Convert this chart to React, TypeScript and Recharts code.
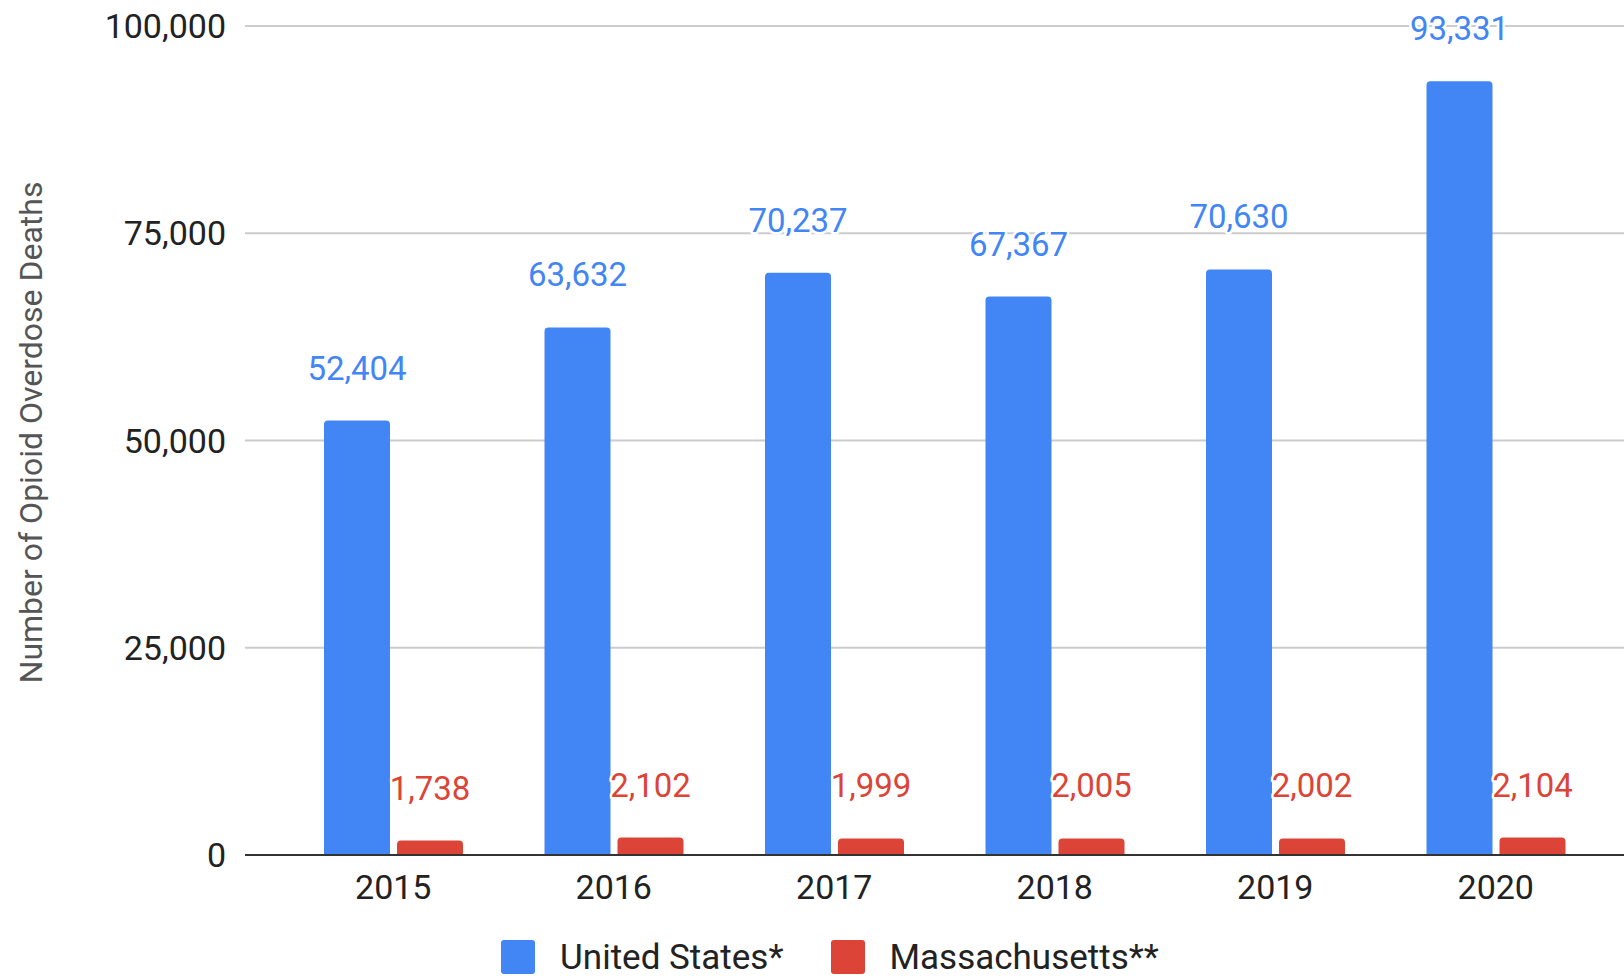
import React from 'react';
import { BarChart, Bar, XAxis, YAxis, CartesianGrid, Legend, LabelList } from 'recharts';

const years = ['2015', '2016', '2017', '2018', '2019', '2020'];
const usDeaths = [52404, 63632, 70237, 67367, 70630, 93331];
const maDeaths = [1738, 2102, 1999, 2005, 2002, 2104];
const yTicks = [0, 25000, 50000, 75000, 100000];

const US_COLOR = '#4285F4';
const MA_COLOR = '#DB4437';

const data = years.map((y, i) => ({ year: y, us: usDeaths[i], ma: maDeaths[i] }));

const fmt = (v: number) => v.toLocaleString('en-US');

const makeLabel = (color: string) => (props: any) => {
  const { x, y, width, value } = props;
  const cx = Number(x) + Number(width) / 2;
  const ty = Number(y) - 41;
  return (
    <text
      x={cx}
      y={ty}
      textAnchor="middle"
      fontSize={33}
      fontFamily="Roboto"
      fill={color}
      stroke="#ffffff"
      strokeWidth={5}
      strokeLinejoin="round"
      style={{ paintOrder: 'stroke' }}
    >
      {fmt(Number(value))}
    </text>
  );
};

const YLabel = (props: any) => {
  const vb = props.viewBox || { x: 0, y: 26, width: 245, height: 829 };
  const cx = vb.x + 31;
  const cy = vb.y + vb.height / 2 - 8;
  return (
    <text
      x={cx}
      y={cy}
      transform={`rotate(-90, ${cx}, ${cy})`}
      textAnchor="middle"
      dominantBaseline="central"
      fontSize={32}
      fontFamily="Roboto"
      fill="#555555"
    >
      Number of Opioid Overdose Deaths
    </text>
  );
};

const legendItems = [
  { label: 'United States*', color: US_COLOR },
  { label: 'Massachusetts**', color: MA_COLOR },
];

const LegendContent = () => (
  <div
    style={{
      display: 'flex',
      justifyContent: 'center',
      alignItems: 'center',
      height: 34,
      fontFamily: 'Roboto',
      fontSize: 34,
      color: '#222222',
    }}
  >
    {legendItems.map((it, i) => (
      <div key={it.label} style={{ display: 'flex', alignItems: 'center', marginLeft: i === 0 ? 0 : 47 }}>
        <div style={{ width: 34, height: 34, background: it.color, borderRadius: 3 }} />
        <span style={{ marginLeft: 25, lineHeight: 1, fontSize: 35, whiteSpace: 'nowrap' }}>{it.label}</span>
      </div>
    ))}
  </div>
);

export default function App() {
  return (
    <div style={{ position: 'absolute', left: 0, top: 0, width: 1624, height: 976, background: '#fff', fontFamily: 'Roboto', overflow: 'hidden' }}>
      <BarChart
        width={1624}
        height={976}
        data={data}
        margin={{ top: 26, right: 0, left: 0, bottom: 2 }}
        barSize={66}
        barGap={7}
      >
        <CartesianGrid vertical={false} stroke="#cccccc" strokeWidth={2} />
        <XAxis
          dataKey="year"
          height={85}
          padding={{ left: 38, right: 18 }}
          tickLine={false}
          tickSize={6}
          tickMargin={14}
          axisLine={{ stroke: '#333333', strokeWidth: 2 }}
          tick={{ fontSize: 34, fill: '#222222', fontFamily: 'Roboto' }}
          interval={0}
        />
        <YAxis
          width={245}
          domain={[0, 100000]}
          ticks={yTicks}
          tickFormatter={fmt}
          axisLine={false}
          tickLine={false}
          tickSize={6}
          tickMargin={13}
          tick={{ fontSize: 34, fill: '#222222', fontFamily: 'Roboto' }}
          label={<YLabel />}
        />
        <Legend
          verticalAlign="bottom"
          height={34}
          content={<LegendContent />}
          wrapperStyle={{ left: 36, width: 1588, height: 34, bottom: 2 }}
        />
        <Bar dataKey="us" name="United States*" fill={US_COLOR} radius={[4, 4, 0, 0]} isAnimationActive={false}>
          <LabelList dataKey="us" content={makeLabel(US_COLOR)} />
        </Bar>
        <Bar dataKey="ma" name="Massachusetts**" fill={MA_COLOR} radius={[4, 4, 0, 0]} isAnimationActive={false}>
          <LabelList dataKey="ma" content={makeLabel(MA_COLOR)} />
        </Bar>
      </BarChart>
    </div>
  );
}
